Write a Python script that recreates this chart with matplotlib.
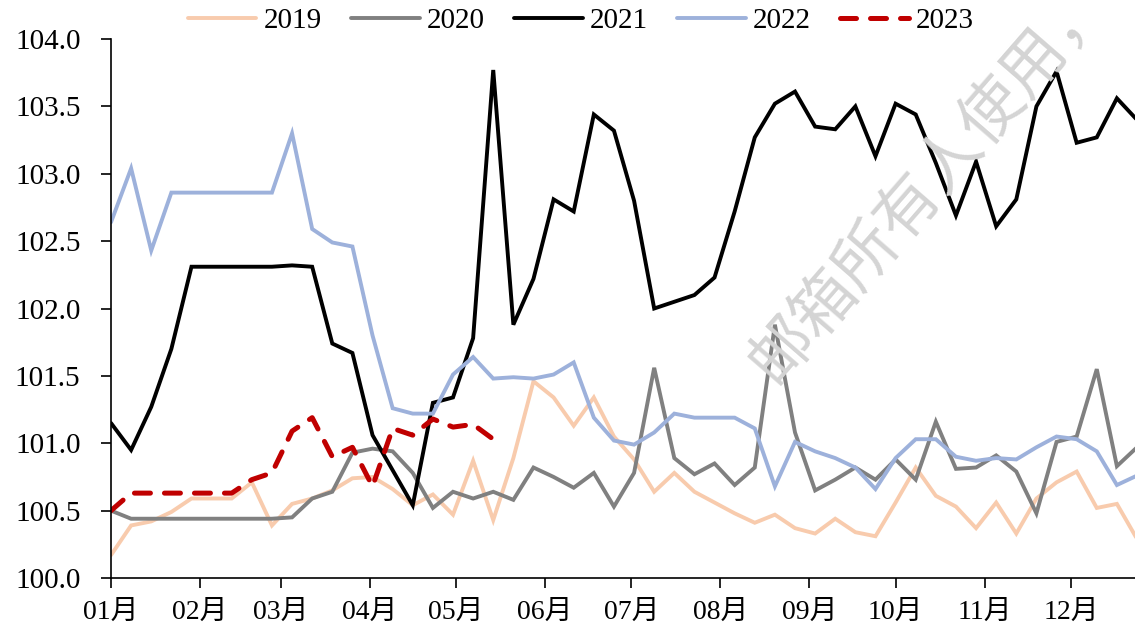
import numpy as np
import matplotlib
matplotlib.use("Agg")
import matplotlib.pyplot as plt
from matplotlib.ticker import FormatStrFormatter

plt.rcParams['font.family'] = ['Liberation Serif', 'Noto Sans CJK SC', 'DejaVu Sans']

# weekly index values (one point per week, day 0 = 1 Jan)
weeks = np.arange(52)
days = weeks * 7

v2019 = [100.17, 100.39, 100.42, 100.49, 100.59, 100.59, 100.59, 100.71, 100.39, 100.55,
         100.59, 100.65, 100.74, 100.75, 100.66, 100.54, 100.62, 100.47, 100.87, 100.43,
         100.89, 101.46, 101.34, 101.13, 101.34, 101.05, 100.88, 100.64, 100.78, 100.64,
         100.56, 100.48, 100.41, 100.47, 100.37, 100.33, 100.44, 100.34, 100.31, 100.56,
         100.82, 100.61, 100.53, 100.37, 100.56, 100.33, 100.59, 100.71, 100.79, 100.52,
         100.55, 100.29]
v2020 = [100.50, 100.44, 100.44, 100.44, 100.44, 100.44, 100.44, 100.44, 100.44, 100.45,
         100.59, 100.64, 100.93, 100.96, 100.94, 100.78, 100.52, 100.64, 100.59, 100.64,
         100.58, 100.82, 100.75, 100.67, 100.78, 100.53, 100.78, 101.56, 100.89, 100.77,
         100.85, 100.69, 100.82, 101.88, 101.08, 100.65, 100.73, 100.82, 100.73, 100.88,
         100.73, 101.16, 100.81, 100.82, 100.91, 100.79, 100.48, 101.01, 101.05, 101.55,
         100.83, 100.97]
v2021 = [101.15, 100.95, 101.27, 101.70, 102.31, 102.31, 102.31, 102.31, 102.31, 102.32,
         102.31, 101.74, 101.67, 101.06, 100.80, 100.54, 101.30, 101.34, 101.78, 103.77,
         101.88, 102.22, 102.81, 102.72, 103.44, 103.32, 102.80, 102.00, 102.05, 102.10,
         102.23, 102.72, 103.27, 103.52, 103.61, 103.35, 103.33, 103.50, 103.13, 103.52,
         103.44, 103.08, 102.69, 103.09, 102.61, 102.81, 103.50, 103.76, 103.23, 103.27,
         103.56, 103.40]
v2022 = [102.64, 103.04, 102.43, 102.86, 102.86, 102.86, 102.86, 102.86, 102.86, 103.30,
         102.59, 102.49, 102.46, 101.80, 101.26, 101.22, 101.22, 101.51, 101.64, 101.48,
         101.49, 101.48, 101.51, 101.60, 101.19, 101.02, 100.99, 101.08, 101.22, 101.19,
         101.19, 101.19, 101.11, 100.68, 101.01, 100.94, 100.89, 100.82, 100.66, 100.89,
         101.03, 101.03, 100.90, 100.87, 100.89, 100.88, 100.97, 101.05, 101.03, 100.94,
         100.69, 100.76]
v2023 = [100.50, 100.63, 100.63, 100.63, 100.63, 100.63, 100.63, 100.73, 100.78, 101.09,
         101.19, 100.90, 100.97, 100.68, 101.11, 101.06, 101.18, 101.12, 101.14, 101.03]

month_days = [0, 31, 59, 90, 120, 151, 181, 212, 243, 273, 304, 334]
month_labels = ['01月', '02月', '03月', '04月', '05月', '06月',
                '07月', '08月', '09月', '10月', '11月', '12月']

fig = plt.figure(figsize=(11.35, 6.28), dpi=100)
ax = fig.add_axes([0.0978, 0.0796, 0.9022, 0.8583])

kw = dict(lw=2.8, solid_capstyle='round', solid_joinstyle='miter')
ax.plot(days, v2019, color='#F8CBAD', label='2019', **kw)
ax.plot(days, v2020, color='#808080', label='2020', **kw)
ax.plot(days, v2021, color='black', label='2021', **kw)
ax.plot(days, v2022, color='#9DB1DB', label='2022', **kw)
ax.plot(days[:len(v2023)], v2023, color='#C00000', label='2023', lw=3.6,
        dashes=(3.2, 2.8), dash_capstyle='round', solid_joinstyle='round')

ax.set_xlim(0, 356.3)
ax.set_ylim(100, 104)
ax.set_yticks(np.arange(100, 104.01, 0.5))
ax.yaxis.set_major_formatter(FormatStrFormatter('%.1f'))
ax.set_xticks(month_days)
ax.set_xticklabels(month_labels)

for s in ['top', 'right']:
    ax.spines[s].set_visible(False)
for s in ['left', 'bottom']:
    ax.spines[s].set_linewidth(1.2)
ax.tick_params(axis='y', direction='out', length=7, width=1.2, pad=15, labelsize=21)
ax.tick_params(axis='x', direction='out', length=7, width=1.2, pad=9, labelsize=20)

fig.legend(loc='center', bbox_to_anchor=(581 / 1135, 1 - 21 / 628), ncol=5,
           frameon=False, fontsize=21, handlelength=2.35, handletextpad=0.25,
           columnspacing=1.0, borderaxespad=0)

# watermark
fig.text(929 / 1135, 1 - 181 / 628, '邮箱所有人使用，', fontsize=46, color='#d4d4d4',
         rotation=49, ha='center', va='center', rotation_mode='anchor',
         family=['Noto Sans CJK SC'], zorder=0)

fig.savefig('out.png', dpi=100)
